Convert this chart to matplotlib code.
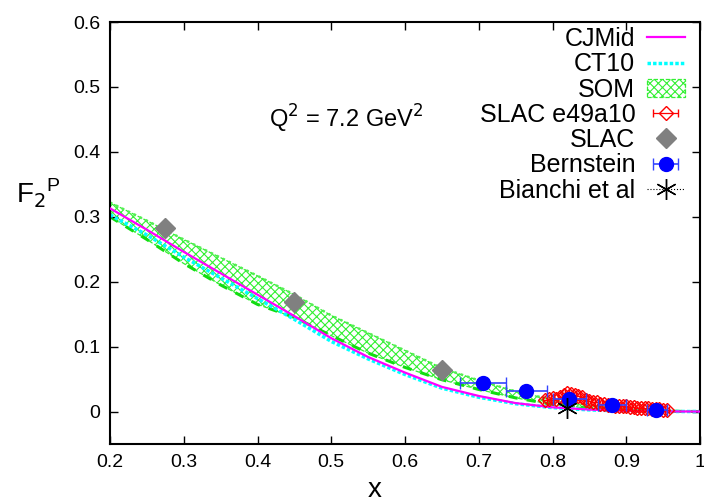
import numpy as np
import matplotlib
matplotlib.use("Agg")
import matplotlib.pyplot as plt
from matplotlib.lines import Line2D

plt.rcParams['font.family'] = ['Liberation Sans', 'DejaVu Sans']
plt.rcParams['hatch.linewidth'] = 0.8

# curves
xc = [0.2, 0.25, 0.3, 0.35, 0.4, 0.45, 0.5, 0.55, 0.6, 0.65, 0.7, 0.75, 0.8, 0.85, 0.9, 0.95, 1.0]
cjmid = [0.313, 0.280, 0.246, 0.213, 0.180, 0.147, 0.113, 0.084, 0.060, 0.038, 0.024, 0.013, 0.0065, 0.003, 0.001, 0.0002, 0.0]
ct10 = [0.303, 0.272, 0.238, 0.206, 0.174, 0.142, 0.108, 0.081, 0.057, 0.036, 0.022, 0.012, 0.006, 0.0025, 0.0008, 0.0001, 0.0]
som_hi = [0.322, 0.294, 0.265, 0.237, 0.209, 0.180, 0.148, 0.121, 0.094, 0.067, 0.048, 0.031, 0.018, 0.009, 0.004, 0.001, 0.0]
som_lo = [0.300, 0.265, 0.228, 0.195, 0.165, 0.145, 0.117, 0.090, 0.068, 0.049, 0.034, 0.021, 0.011, 0.005, 0.002, 0.0005, 0.0]

# SLAC
slac_x = [0.275, 0.45, 0.65]
slac_y = [0.283, 0.169, 0.0635]

# Bernstein
bern_x = [0.706, 0.764, 0.823, 0.881, 0.940]
bern_y = [0.044, 0.031, 0.0195, 0.0103, 0.003]
bern_xlo = [0.675, 0.737, 0.800, 0.862, 0.928]
bern_xhi = [0.737, 0.792, 0.846, 0.900, 0.955]

# Bianchi et al
bian_x = [0.82]
bian_y = [0.005]

# SLAC e49a10
e49_x = [0.790, 0.795, 0.800, 0.805, 0.810, 0.815, 0.820, 0.825, 0.830, 0.835, 0.840, 0.845,
         0.850, 0.855, 0.860, 0.865, 0.870, 0.875, 0.880, 0.885, 0.890, 0.895, 0.900, 0.905,
         0.910, 0.915, 0.920, 0.925, 0.930, 0.935, 0.940, 0.945, 0.950, 0.955]
e49_y = [0.018, 0.020, 0.021, 0.019, 0.022, 0.026, 0.028, 0.027, 0.025, 0.024, 0.022, 0.018,
         0.016, 0.015, 0.014, 0.012, 0.011, 0.010, 0.010, 0.009, 0.009, 0.008, 0.008, 0.007,
         0.007, 0.006, 0.006, 0.005, 0.005, 0.004, 0.004, 0.004, 0.003, 0.003]
e49_dx = [0.0025] * len(e49_x)

fig = plt.figure(figsize=(7.04, 5.04), dpi=100)
ax = fig.add_axes([110/704, 60/504, 590/704, 422/504])

h_cj, = ax.plot(xc, cjmid, color='#ff00ff', lw=1.6, zorder=3)
h_ct, = ax.plot(xc, ct10, color='#00ffff', lw=2.5, ls=(0, (1, 0.6)), zorder=2)
h_som = ax.fill_between(xc, som_lo, som_hi, facecolor='none', edgecolor='#33f033', hatch='xxxx',
                        lw=0.9, ls='--', zorder=1)
ax.plot(xc, som_hi, color='#55ee55', lw=1.8, ls=':', zorder=1)
ax.plot(xc, som_lo, color='#11dd11', lw=2.2, ls=(0, (3, 3)), zorder=1)

h_e49 = ax.errorbar(e49_x, e49_y, xerr=e49_dx, fmt='D', mfc='none', mec='red', color='red',
                    ms=7, mew=1.0, elinewidth=0.9, capsize=3, zorder=4)
h_slac, = ax.plot(slac_x, slac_y, 'D', color='#808080', ms=10, ls='none', zorder=5)
xerr = [np.array(bern_x) - np.array(bern_xlo), np.array(bern_xhi) - np.array(bern_x)]
h_bern = ax.errorbar(bern_x, bern_y, xerr=xerr, fmt='o', color='#0000ff', ecolor='#3344ff',
                     ms=10, elinewidth=1.2, capsize=4, zorder=6)
ax.plot(bian_x, bian_y, marker=(6, 2, 0), color='black', ms=15, mew=1.0, ls='none', zorder=7)

# legend handle for Bianchi
h_bian = Line2D([], [], color='black', ls=':', lw=0.8, marker=(6, 2, 0), ms=15, mew=1.0)

handles = [h_cj, h_ct, h_som, h_e49, h_slac, h_bern, h_bian]
labels = ['CJMid', 'CT10', 'SOM', 'SLAC e49a10', 'SLAC', 'Bernstein', 'Bianchi et al']
leg = ax.legend(handles, labels, loc='upper right', bbox_to_anchor=(0.975, 0.988),
                frameon=False, markerfirst=False, fontsize=18, labelspacing=0.05,
                handlelength=1.55, handletextpad=0.45, borderaxespad=0, borderpad=0)

ax.text(0.52, 0.45, 'Q$^2$ = 7.2 GeV$^2$', fontsize=17, ha='center', va='center')

ax.set_xlim(0.2, 1.0)
ax.set_ylim(-0.05, 0.6)
ax.set_xticks([0.2, 0.3, 0.4, 0.5, 0.6, 0.7, 0.8, 0.9, 1.0])
ax.set_xticklabels(['0.2', '0.3', '0.4', '0.5', '0.6', '0.7', '0.8', '0.9', '1'])
ax.set_yticks([0, 0.1, 0.2, 0.3, 0.4, 0.5, 0.6])
ax.set_yticklabels(['0', '0.1', '0.2', '0.3', '0.4', '0.5', '0.6'])
ax.tick_params(direction='in', top=True, right=True, labelsize=14, length=6, width=1, pad=7)
for s in ax.spines.values():
    s.set_linewidth(1.5)

fig.text(375/704, 1 - 490/504, 'x', fontsize=20, ha='center', va='center')
fig.text(38/704, 1 - 193/504, 'F$_2$$^\\mathregular{P}$', fontsize=20, ha='center', va='center')

fig.savefig('out.png', dpi=100)
